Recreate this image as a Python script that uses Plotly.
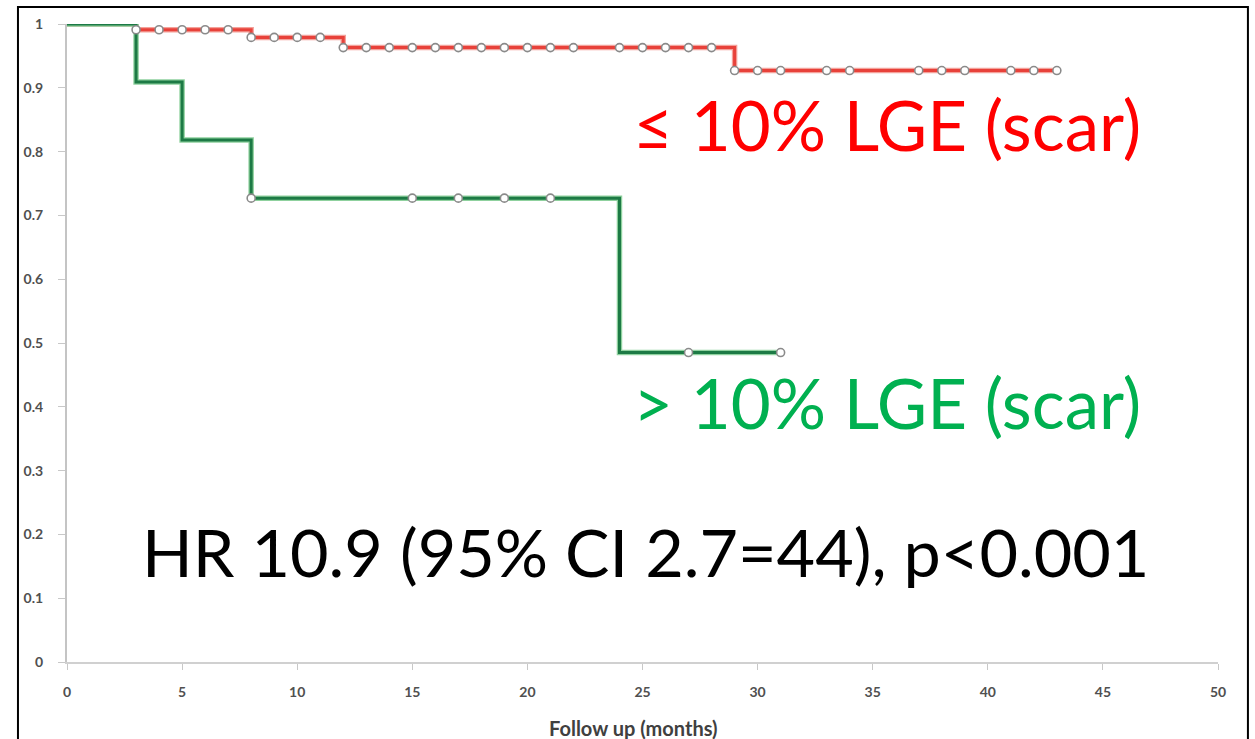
import plotly.graph_objects as go

# Kaplan-Meier step data (months, survival)
low_times = [0, 3, 8, 12, 29, 43]
low_surv = [1.0, 0.991, 0.979, 0.963, 0.927, 0.927]
low_censor = [3, 4, 5, 6, 7, 8, 9, 10, 11, 12, 13, 14, 15, 16, 17, 18, 19, 20,
              21, 22, 24, 25, 26, 27, 28, 29, 30, 31, 33, 34, 37, 38, 39, 41, 42, 43]

high_times = [0, 3, 5, 8, 24, 31]
high_surv = [1.0, 0.909, 0.818, 0.727, 0.485, 0.485]
high_censor = [8, 15, 17, 19, 21, 27, 31]

x_ticks = [0, 5, 10, 15, 20, 25, 30, 35, 40, 45, 50]
y_ticks = [0, 0.1, 0.2, 0.3, 0.4, 0.5, 0.6, 0.7, 0.8, 0.9, 1]
y_tick_text = ["0", "0.1", "0.2", "0.3", "0.4", "0.5", "0.6", "0.7", "0.8", "0.9", "1"]


def surv_at(times, surv, t):
    """Survival value of the step function at time t."""
    val = surv[0]
    for ti, si in zip(times, surv):
        if ti <= t:
            val = si
    return val


fig = go.Figure()

for times, surv, halo, core in [
    (low_times, low_surv, "#f4a19a", "#e8413a"),
    (high_times, high_surv, "#8fd19e", "#1d7a45"),
]:
    fig.add_trace(go.Scatter(x=times, y=surv, mode="lines", line_shape="hv",
                             line=dict(color=halo, width=5.5), hoverinfo="skip",
                             showlegend=False, cliponaxis=False))
    fig.add_trace(go.Scatter(x=times, y=surv, mode="lines", line_shape="hv",
                             line=dict(color=core, width=3), showlegend=False,
                             cliponaxis=False))

for times, surv, cens in [(low_times, low_surv, low_censor),
                          (high_times, high_surv, high_censor)]:
    fig.add_trace(go.Scatter(
        x=cens, y=[surv_at(times, surv, t) for t in cens], mode="markers",
        marker=dict(symbol="circle", size=8, color="white",
                    line=dict(color="#8a8a8a", width=1.6)),
        showlegend=False, cliponaxis=False))

tick_font = dict(family="Lato", size=14, color="#505050", weight="bold")

fig.update_layout(
    width=1255, height=739,
    margin=dict(l=67, r=37, t=24, b=77),
    paper_bgcolor="white", plot_bgcolor="white",
    xaxis=dict(range=[0, 50], tickvals=x_ticks, showgrid=False, zeroline=False,
               showline=True, linecolor="#d0d0d0", linewidth=2,
               ticks="outside", ticklen=6, tickcolor="#c8c8c8", tickwidth=1,
               tickfont=tick_font, ticklabelstandoff=10),
    yaxis=dict(range=[0, 1], tickvals=y_ticks, ticktext=y_tick_text,
               showgrid=False, zeroline=False,
               showline=True, linecolor="#c4c4c4", linewidth=2,
               ticks="outside", ticklen=7, tickcolor="#c8c8c8", tickwidth=1,
               tickfont=tick_font, ticklabelstandoff=12),
)

# outer frame
fig.add_shape(type="rect", xref="paper", yref="paper",
              x0=-0.0426, x1=1.026, y0=-0.3, y1=1.0266,
              line=dict(color="black", width=2), fillcolor="rgba(0,0,0,0)")

fig.add_annotation(x=0.4918, y=-0.1035, xref="paper", yref="paper",
                   xanchor="center", yanchor="middle",
                   text="Follow up (months)", showarrow=False,
                   font=dict(family="Lato", size=20, color="#404040", weight="bold"))

big = "Lato"
fig.add_annotation(x=35.6, y=0.842, text="≤ 10% LGE (scar)", showarrow=False,
                   xanchor="center", yanchor="middle",
                   font=dict(family=big, size=69, color="#ff0000"))
fig.add_annotation(x=35.6, y=0.407, text="> 10% LGE (scar)", showarrow=False,
                   xanchor="center", yanchor="middle",
                   font=dict(family=big, size=69, color="#00b050"))
fig.add_annotation(x=25.15, y=0.174, text="HR 10.9 (95% CI 2.7=44), p<0.001",
                   showarrow=False, xanchor="center", yanchor="middle",
                   font=dict(family=big, size=66.5, color="#000000"))

fig.write_html("out.html")
